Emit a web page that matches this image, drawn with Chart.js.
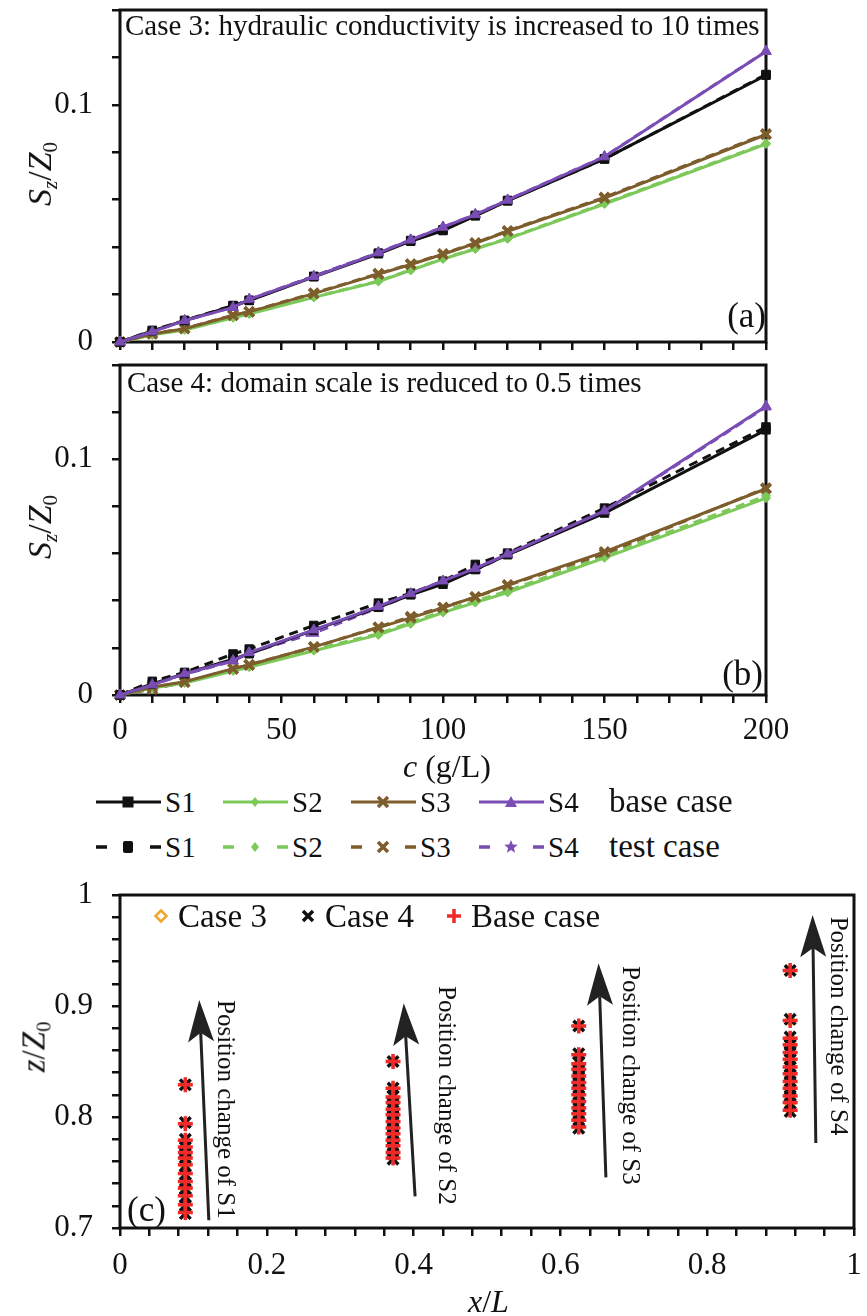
<!DOCTYPE html>
<html>
<head>
<meta charset="utf-8">
<script src="https://cdn.jsdelivr.net/npm/chart.js@4.4.0/dist/chart.umd.min.js"></script>
<style>
  body { margin: 0; background: #fff; }
  #page { position: relative; width: 867px; height: 1316px; overflow: hidden;
          font-family: 'Liberation Serif', 'Times New Roman', serif; color: #111; }
  canvas { position: absolute; left: 0; }
  .txt { position: absolute; white-space: nowrap; line-height: 1; }
  .rot { position: absolute; white-space: nowrap; line-height: 1;
         transform: translate(-50%, -50%) rotate(-90deg); }
  sub { font-size: 62%; vertical-align: -0.28em; line-height: 0; font-style: normal; }
  .svg { position: absolute; overflow: visible; }
</style>
</head>
<body>
<div id="page">
  <canvas id="chartA" width="867" height="355" style="top:0"></canvas>
  <canvas id="chartB" width="867" height="420" style="top:355px"></canvas>
  <canvas id="chartC" width="867" height="446" style="top:870px"></canvas>

  <div class="txt" style="left:125px;top:11px;font-size:29px">Case 3: hydraulic conductivity is increased to 10 times</div>
  <div class="txt" style="right:101px;top:298px;font-size:35px">(a)</div>
  <div class="txt" style="left:127px;top:368px;font-size:29px">Case 4: domain scale is reduced to 0.5 times</div>
  <div class="txt" style="right:104px;top:656px;font-size:35px">(b)</div>
  <div class="txt" style="left:127px;top:1192px;font-size:35px">(c)</div>

  <div class="rot" style="left:40px;top:174px;font-size:34px"><i>S</i><sub><i>z</i></sub>/<i>Z</i><sub>0</sub></div>
  <div class="rot" style="left:40px;top:527px;font-size:34px"><i>S</i><sub><i>z</i></sub>/<i>Z</i><sub>0</sub></div>
  <div class="rot" style="left:34px;top:1047px;font-size:33px"><i>z</i>/<i>Z</i><sub>0</sub></div>
  <div class="txt" style="left:403px;top:750px;font-size:32px"><i>c</i> (g/L)</div>
  <div class="txt" style="left:468px;top:1285px;font-size:32px"><i>x</i>/<i>L</i></div>

  <div id="lineLegend"></div>
  <div id="caseLegend"></div>
</div>

<script>
// ---- panels (a) and (b): settlement of the four sensors vs concentration ----
const conc = [0, 10, 20, 35, 40, 60, 80, 90, 100, 110, 120, 150, 200];

const s1Base = [0, 0.0047, 0.0090, 0.0152, 0.0175, 0.0275, 0.0372, 0.0425, 0.0470, 0.0532, 0.0595, 0.0772, 0.1125];
const s2Base = [0, 0.0030, 0.0051, 0.0102, 0.0118, 0.0188, 0.0255, 0.0302, 0.0350, 0.0392, 0.0435, 0.0582, 0.0835];
const s3Base = [0, 0.0034, 0.0056, 0.0112, 0.0127, 0.0204, 0.0286, 0.0327, 0.0370, 0.0416, 0.0467, 0.0607, 0.0875];
const s4Base = [0, 0.0043, 0.0090, 0.0146, 0.0180, 0.0276, 0.0376, 0.0430, 0.0484, 0.0537, 0.0598, 0.0781, 0.1225];

// case 3 (hydraulic conductivity x10)
const s1Case3 = [0, 0.0049, 0.0091, 0.0154, 0.0176, 0.0277, 0.0375, 0.0428, 0.0473, 0.0534, 0.0597, 0.0772, 0.1128];
const s2Case3 = [0, 0.0031, 0.0053, 0.0104, 0.0120, 0.0190, 0.0257, 0.0304, 0.0352, 0.0394, 0.0437, 0.0585, 0.0838];
const s3Case3 = [0, 0.0035, 0.0057, 0.0113, 0.0128, 0.0206, 0.0288, 0.0329, 0.0372, 0.0418, 0.0469, 0.0610, 0.0878];
const s4Case3 = [0, 0.0043, 0.0091, 0.0147, 0.0180, 0.0277, 0.0377, 0.0431, 0.0485, 0.0538, 0.0599, 0.0782, 0.1226];

// case 4 (domain scale x0.5)
const s1Case4 = [0, 0.0058, 0.0096, 0.0174, 0.0195, 0.0295, 0.0390, 0.0432, 0.0483, 0.0554, 0.0602, 0.0793, 0.1137];
const s2Case4 = [0, 0.0032, 0.0054, 0.0106, 0.0122, 0.0193, 0.0260, 0.0308, 0.0356, 0.0398, 0.0442, 0.0590, 0.0845];
const s3Case4 = [0, 0.0025, 0.0054, 0.0110, 0.0129, 0.0203, 0.0288, 0.0333, 0.0372, 0.0415, 0.0465, 0.0599, 0.0878];
const s4Case4 = [0, 0.0044, 0.0088, 0.0144, 0.0178, 0.0262, 0.0370, 0.0425, 0.0480, 0.0530, 0.0595, 0.0778, 0.1222];

const sensorNames = ['S1', 'S2', 'S3', 'S4'];
const caseNames = ['base case', 'test case'];
const settleLabels = [0, 0.1];
const concLabels = [0, 50, 100, 150, 200];

// ---- panel (c): sensor positions ----
const sensorX = [0.089, 0.372, 0.625, 0.913];

const zS1Base = [0.829, 0.794, 0.779, 0.773, 0.768, 0.763, 0.757, 0.749, 0.742, 0.736, 0.729, 0.721, 0.714];
const zS2Base = [0.850, 0.826, 0.818, 0.813, 0.807, 0.802, 0.796, 0.790, 0.785, 0.779, 0.774, 0.768, 0.763];
const zS3Base = [0.882, 0.856, 0.848, 0.843, 0.837, 0.831, 0.826, 0.820, 0.814, 0.808, 0.803, 0.797, 0.791];
const zS4Base = [0.932, 0.887, 0.871, 0.865, 0.858, 0.852, 0.845, 0.839, 0.832, 0.826, 0.819, 0.813, 0.806];

const zS1Case3 = [0.829, 0.794, 0.779, 0.773, 0.767, 0.762, 0.756, 0.749, 0.742, 0.735, 0.729, 0.721, 0.715];
const zS2Case3 = [0.850, 0.826, 0.818, 0.812, 0.807, 0.801, 0.796, 0.790, 0.784, 0.779, 0.773, 0.768, 0.763];
const zS3Case3 = [0.882, 0.856, 0.848, 0.842, 0.837, 0.831, 0.825, 0.820, 0.814, 0.808, 0.802, 0.797, 0.791];
const zS4Case3 = [0.932, 0.887, 0.871, 0.864, 0.858, 0.851, 0.845, 0.838, 0.832, 0.825, 0.819, 0.812, 0.806];

const zS1Case4 = [0.829, 0.795, 0.780, 0.774, 0.768, 0.762, 0.756, 0.748, 0.741, 0.735, 0.728, 0.720, 0.713];
const zS2Case4 = [0.850, 0.826, 0.819, 0.813, 0.808, 0.802, 0.796, 0.790, 0.784, 0.778, 0.773, 0.767, 0.762];
const zS3Case4 = [0.882, 0.857, 0.849, 0.843, 0.837, 0.831, 0.825, 0.819, 0.813, 0.808, 0.802, 0.796, 0.790];
const zS4Case4 = [0.932, 0.888, 0.872, 0.865, 0.859, 0.852, 0.845, 0.838, 0.832, 0.825, 0.819, 0.812, 0.805];

const posCaseNames = ['Case 3', 'Case 4', 'Base case'];
const zLabels = [0.7, 0.8, 0.9, 1];
const xLabels = [0, 0.2, 0.4, 0.6, 0.8, 1];

// arrows + their captions, in data units of panel (c)
const arrowTail = [[0.121, 0.707], [0.402, 0.7285], [0.662, 0.7456], [0.948, 0.7765]];
const arrowTip = [[0.108, 0.9055], [0.3866, 0.9025], [0.652, 0.9385], [0.9436, 0.982]];
const arrowCaptionAt = [[0.143, 0.9054], [0.443, 0.918], [0.6936, 0.936], [0.977, 0.9805]];

const colors = { S1: '#111111', S2: '#7cc95a', S3: '#7d5d2c', S4: '#7a4db5' };
const markers = { S1: 'rect', S2: 'rectRot', S3: 'crossRot', S4: 'triangle' };
const tickFont = { family: "'Liberation Serif', serif", size: 31 };

function near(v, list) {
  return list.some(l => Math.abs(v - l) < 1e-6);
}

function seriesDataset(name, values, dashed) {
  const color = colors[name];
  const style = markers[name];
  return {
    label: name + (dashed ? ' test' : ' base'),
    data: conc.map((c, i) => ({ x: c, y: values[i] })),
    borderColor: color,
    backgroundColor: color,
    borderWidth: 3,
    borderDash: dashed ? [9, 6] : [],
    pointStyle: style,
    pointRadius: style === 'rectRot' ? 4.5 : (style === 'crossRot' ? 6.5 : 6),
    pointBorderWidth: style === 'crossRot' ? 3.5 : 1,
    pointBorderColor: color,
    pointBackgroundColor: color,
    tension: 0,
    fill: false,
    clip: false
  };
}

const boxPlugin = {
  id: 'box',
  beforeDatasetsDraw(chart) {
    const { ctx, chartArea: a } = chart;
    ctx.save();
    ctx.strokeStyle = '#111';
    ctx.lineWidth = 3;
    ctx.strokeRect(a.left, a.top, a.right - a.left, a.bottom - a.top);
    ctx.restore();
  }
};

function fixWidth(w) {
  return s => { s.width = w; s.paddingTop = 0; s.paddingBottom = 0; };
}
function fixHeight(h) {
  return s => { s.height = h; s.paddingLeft = 0; s.paddingRight = 0; };
}

const gridOpts = { drawOnChartArea: false, drawTicks: true, tickLength: 8, color: '#111', lineWidth: 2.5 };

// first dataset in the list ends up on top
function settlementChart(id, caseData, xAxisHeight, showX) {
  const datasets = [
    seriesDataset('S4', s4Base, false),
    seriesDataset('S1', s1Base, false),
    seriesDataset('S3', s3Base, false),
    seriesDataset('S2', s2Base, false),
    seriesDataset('S4', caseData[3], true),
    seriesDataset('S1', caseData[0], true),
    seriesDataset('S3', caseData[2], true),
    seriesDataset('S2', caseData[1], true)
  ];
  return new Chart(document.getElementById(id), {
    type: 'line',
    data: { datasets },
    options: {
      responsive: false,
      animation: false,
      layout: { padding: { top: 8, right: 101, left: 0, bottom: 0 } },
      plugins: { legend: { display: false }, tooltip: { enabled: false } },
      scales: {
        x: {
          type: 'linear', min: 0, max: 200,
          afterFit: fixHeight(xAxisHeight),
          border: { display: false },
          grid: gridOpts,
          ticks: {
            display: showX, stepSize: 10, autoSkip: false, maxRotation: 0,
            font: tickFont, color: '#111', padding: 9,
            callback: v => near(v, concLabels) ? String(v) : ''
          }
        },
        y: {
          min: 0, max: 0.14,
          afterFit: fixWidth(120),
          border: { display: false },
          grid: gridOpts,
          ticks: {
            stepSize: 0.02, autoSkip: false, font: tickFont, color: '#111', padding: 19,
            callback: v => near(v, settleLabels) ? String(Math.round(v * 10) / 10) : ''
          }
        }
      }
    },
    plugins: [boxPlugin]
  });
}

settlementChart('chartA', [s1Case3, s2Case3, s3Case3, s4Case3], 13, false);
settlementChart('chartB', [s1Case4, s2Case4, s3Case4, s4Case4], 80, true);

// ---- panel (c) ----
function positionPoints(cols) {
  const pts = [];
  cols.forEach((zs, k) => zs.forEach(z => pts.push({ x: sensorX[k], y: z })));
  return pts;
}

const arrowPlugin = {
  id: 'arrows',
  afterDatasetsDraw(chart) {
    const { ctx, scales: { x, y } } = chart;
    ctx.save();
    ctx.fillStyle = '#222';
    ctx.strokeStyle = '#222';
    ctx.lineWidth = 3;
    arrowTail.forEach((t, i) => {
      const x0 = x.getPixelForValue(t[0]), y0 = y.getPixelForValue(t[1]);
      const x1 = x.getPixelForValue(arrowTip[i][0]), y1 = y.getPixelForValue(arrowTip[i][1]);
      const ang = Math.atan2(y1 - y0, x1 - x0);
      const c = Math.cos(ang), s = Math.sin(ang);
      const headLen = 42, headW = 13, notch = 9;
      const bx = x1 - headLen * c, by = y1 - headLen * s;
      const nx = x1 - (headLen - notch) * c, ny = y1 - (headLen - notch) * s;
      ctx.beginPath();
      ctx.moveTo(x0, y0);
      ctx.lineTo(nx, ny);
      ctx.stroke();
      ctx.beginPath();
      ctx.moveTo(x1, y1);
      ctx.lineTo(bx - headW * s, by + headW * c);
      ctx.lineTo(nx, ny);
      ctx.lineTo(bx + headW * s, by - headW * c);
      ctx.closePath();
      ctx.fill();

      const tx = x.getPixelForValue(arrowCaptionAt[i][0]);
      const ty = y.getPixelForValue(arrowCaptionAt[i][1]);
      ctx.save();
      ctx.translate(tx, ty);
      ctx.rotate(Math.PI / 2);
      ctx.font = "25px 'Liberation Serif', serif";
      ctx.fillStyle = '#111';
      ctx.textAlign = 'left';
      ctx.textBaseline = 'middle';
      ctx.fillText('Position change of ' + sensorNames[i], 0, 0);
      ctx.restore();
    });
    ctx.restore();
  }
};

new Chart(document.getElementById('chartC'), {
  type: 'scatter',
  data: {
    datasets: [
      {
        label: posCaseNames[2],
        data: positionPoints([zS1Base, zS2Base, zS3Base, zS4Base]),
        pointStyle: 'cross', pointRadius: 7.5, pointBorderWidth: 3.5,
        pointBorderColor: '#ee2a2a', pointBackgroundColor: '#ee2a2a', clip: false
      },
      {
        label: posCaseNames[1],
        data: positionPoints([zS1Case4, zS2Case4, zS3Case4, zS4Case4]),
        pointStyle: 'crossRot', pointRadius: 7.5, pointBorderWidth: 3.5,
        pointBorderColor: '#111', pointBackgroundColor: '#111', clip: false
      },
      {
        label: posCaseNames[0],
        data: positionPoints([zS1Case3, zS2Case3, zS3Case3, zS4Case3]),
        pointStyle: 'rectRot', pointRadius: 5, pointBorderWidth: 2.5,
        pointBorderColor: '#f2a52c', pointBackgroundColor: 'rgba(0,0,0,0)', clip: false
      }
    ]
  },
  options: {
    responsive: false,
    animation: false,
    layout: { padding: { top: 25, right: 13, left: 0, bottom: 0 } },
    plugins: { legend: { display: false }, tooltip: { enabled: false } },
    scales: {
      x: {
        type: 'linear', min: 0, max: 1,
        afterFit: fixHeight(88),
        border: { display: false },
        grid: gridOpts,
        ticks: {
          stepSize: 0.04, autoSkip: false, maxRotation: 0, font: tickFont, color: '#111', padding: 11,
          callback: v => near(v, xLabels) ? String(Math.round(v * 10) / 10) : ''
        }
      },
      y: {
        min: 0.7, max: 1,
        afterFit: fixWidth(120),
        border: { display: false },
        grid: gridOpts,
        ticks: {
          stepSize: 0.02, autoSkip: false, font: tickFont, color: '#111', padding: 19,
          callback: v => near(v, zLabels) ? String(Math.round(v * 10) / 10) : ''
        }
      }
    }
  },
  plugins: [boxPlugin, arrowPlugin]
});

// ---- legends (html) ----
function markerSvg(name, cx, cy, dashed) {
  const c = colors[name];
  if (name === 'S1') {
    return dashed
      ? `<rect x="${cx - 5}" y="${cy - 6}" width="10" height="12" rx="2" fill="${c}"/>`
      : `<rect x="${cx - 5.5}" y="${cy - 5.5}" width="11" height="11" fill="${c}"/>`;
  }
  if (name === 'S2') return `<path d="M${cx} ${cy - 5}L${cx + 4} ${cy}L${cx} ${cy + 5}L${cx - 4} ${cy}Z" fill="${c}"/>`;
  if (name === 'S3') return `<path d="M${cx - 5} ${cy - 5}L${cx + 5} ${cy + 5}M${cx + 5} ${cy - 5}L${cx - 5} ${cy + 5}" stroke="${c}" stroke-width="3.5"/>`;
  if (dashed) {
    const pts = [];
    for (let k = 0; k < 10; k++) {
      const r = k % 2 ? 3 : 7;
      const a = -Math.PI / 2 + k * Math.PI / 5;
      pts.push((cx + r * Math.cos(a)).toFixed(1) + ',' + (cy + r * Math.sin(a)).toFixed(1));
    }
    return `<polygon points="${pts.join(' ')}" fill="${c}"/>`;
  }
  return `<path d="M${cx} ${cy - 6}L${cx + 6} ${cy + 5}L${cx - 6} ${cy + 5}Z" fill="${c}"/>`;
}

const legendStart = [96, 223, 351, 479];
const legendRowY = [802, 847];
let html = '';
caseNames.forEach((cn, r) => {
  const dashed = r === 1;
  const cy = legendRowY[r];
  sensorNames.forEach((name, i) => {
    const c = colors[name];
    const line = dashed
      ? `<path d="M0 10H11M54 10H65" stroke="${c}" stroke-width="3.5"/>`
      : `<path d="M0 10H65" stroke="${c}" stroke-width="3"/>`;
    html += `<svg class="svg" width="66" height="20" style="left:${legendStart[i]}px;top:${cy - 10}px">${line}${markerSvg(name, 32, 10, dashed)}</svg>`;
    html += `<div class="txt" style="left:${legendStart[i] + 69}px;top:${cy - 14}px;font-size:29px">${name}</div>`;
  });
  html += `<div class="txt" style="left:609px;top:${cy - 17}px;font-size:33px">${cn}</div>`;
});
document.getElementById('lineLegend').innerHTML = html;

const caseMarkX = [161, 308, 454];
const caseMarks = [
  '<path d="M10 4.5L15.5 10L10 15.5L4.5 10Z" fill="none" stroke="#f2a52c" stroke-width="2.5"/>',
  '<path d="M5 5L15 15M15 5L5 15" stroke="#111" stroke-width="3.5"/>',
  '<path d="M10 3V17M3 10H17" stroke="#ee2a2a" stroke-width="3.5"/>'
];
let html2 = '';
posCaseNames.forEach((n, i) => {
  html2 += `<svg class="svg" width="20" height="20" style="left:${caseMarkX[i] - 10}px;top:906px">${caseMarks[i]}</svg>`;
  html2 += `<div class="txt" style="left:${caseMarkX[i] + 17}px;top:900px;font-size:33px">${n}</div>`;
});
document.getElementById('caseLegend').innerHTML = html2;
</script>
</body>
</html>
